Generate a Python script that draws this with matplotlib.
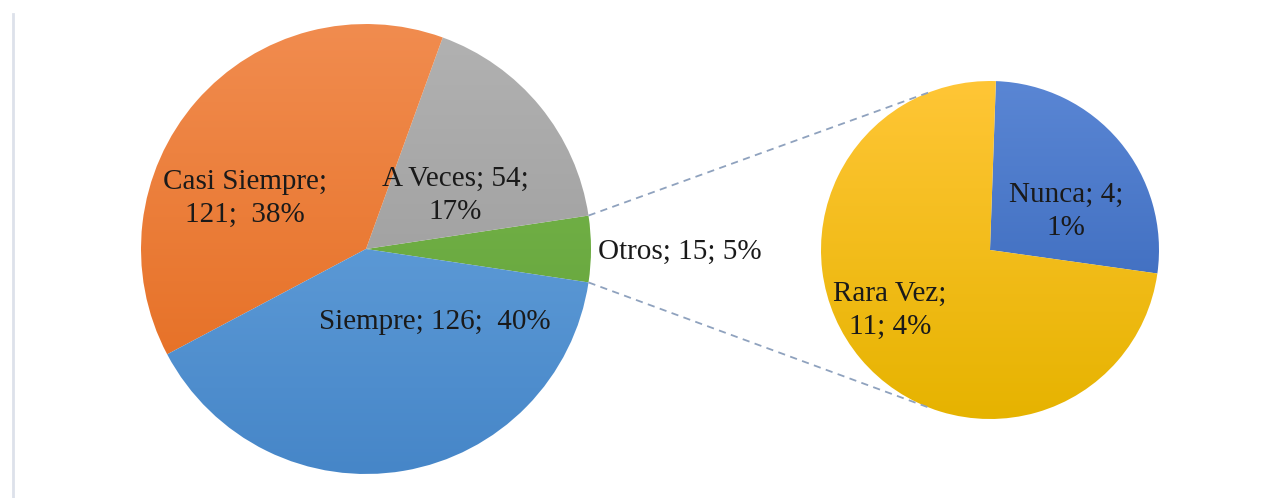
import numpy as np
import matplotlib.pyplot as plt
from matplotlib.colors import to_rgb

plt.rcParams['font.family'] = ['Liberation Serif', 'DejaVu Serif']

W, H = 1269, 498

# main pie (counter-clockwise starting with "Otros" centred on the right)
main_labels = ['Otros', 'A Veces', 'Casi Siempre', 'Siempre']
main_values = [15, 54, 121, 126]
main_pcts = ['5%', '17%', '38%', '40%']
main_top = ['#7CBA50', '#B2B2B2', '#F18C4F', '#70ABE2']
main_bottom = ['#5E9E35', '#949494', '#E3691B', '#4686C8']

# secondary pie (breakdown of "Otros")
sub_labels = ['Nunca', 'Rara Vez']
sub_values = [4, 11]
sub_pcts = ['1%', '4%']
sub_top = ['#5A86D4', '#FFC636']
sub_bottom = ['#3262B6', '#E6B300']

main_c, main_r = (366, 249), 225
sub_c, sub_r = (990, 248), 169


def grad_fill(ax, wedge, top, bottom, c, r):
    t = np.linspace(0, 1, 256)[:, None, None]
    img = (1 - t) * np.array(to_rgb(top)) + t * np.array(to_rgb(bottom))
    im = ax.imshow(img, extent=(c[0] - r, c[0] + r, c[1] - r, c[1] + r),
                   origin='upper', aspect='auto', interpolation='bilinear', zorder=0)
    im.set_clip_path(wedge)
    wedge.set_facecolor('none')


fig = plt.figure(figsize=(W / 100, H / 100), dpi=100)
ax = fig.add_axes([0, 0, 1, 1])

start = -360 * main_values[0] / sum(main_values) / 2
wedges, _ = ax.pie(main_values, center=main_c, radius=main_r, startangle=start,
                   counterclock=True, frame=True, wedgeprops=dict(linewidth=0))
for w, t, b in zip(wedges, main_top, main_bottom):
    grad_fill(ax, w, t, b, main_c, main_r)

sub_start = 88
sub_w, _ = ax.pie(sub_values, center=sub_c, radius=sub_r, startangle=sub_start,
                  counterclock=False, frame=True, wedgeprops=dict(linewidth=0))
for w, t, b in zip(sub_w, sub_top, sub_bottom):
    grad_fill(ax, w, t, b, sub_c, sub_r)

# connector lines: from edges of "Otros" to tangent points on secondary pie
half = np.deg2rad(wedges[0].theta2)
for sgn in (1, -1):
    p = np.array([main_c[0] + main_r * np.cos(half), main_c[1] + sgn * main_r * np.sin(half)])
    cvec = p - np.array(sub_c)
    d = np.hypot(*cvec)
    base = np.arctan2(cvec[1], cvec[0])
    ang = base - sgn * np.arccos(sub_r / d)
    q = np.array(sub_c) + sub_r * np.array([np.cos(ang), np.sin(ang)])
    ax.plot([p[0], q[0]], [p[1], q[1]], ls=(0, (4, 3)), color='#8FA2BE', lw=1.3, zorder=0.5)

fs = 21
tc = '#1a1a1a'
ls = 1.35
ax.text(245, H - 198, f'{main_labels[2]};\n{main_values[2]};  {main_pcts[2]}', ha='center', va='center',
        fontsize=fs, color=tc, linespacing=ls)
ax.text(455, H - 195, f'{main_labels[1]}; {main_values[1]};\n{main_pcts[1]}', ha='center', va='center',
        fontsize=fs, color=tc, linespacing=ls)
ax.text(435, H - 322, f'{main_labels[3]}; {main_values[3]};  {main_pcts[3]}', ha='center', va='center',
        fontsize=fs, color=tc)
ax.text(598, H - 252, f'{main_labels[0]}; {main_values[0]}; {main_pcts[0]}', ha='left', va='center',
        fontsize=fs, color=tc)
ax.text(1066, H - 211, f'{sub_labels[0]}; {sub_values[0]};\n{sub_pcts[0]}', ha='center', va='center',
        fontsize=fs, color=tc, linespacing=ls)
ax.text(890, H - 310, f'{sub_labels[1]};\n{sub_values[1]}; {sub_pcts[1]}', ha='center', va='center',
        fontsize=fs, color=tc, linespacing=ls)

# thin frame edge on the left
ax.plot([13, 13], [0, H - 14], color='#DDE1EA', lw=2)

ax.set_xlim(0, W)
ax.set_ylim(0, H)
ax.set_aspect('auto')
ax.axis('off')

fig.savefig('out.png', dpi=100)
